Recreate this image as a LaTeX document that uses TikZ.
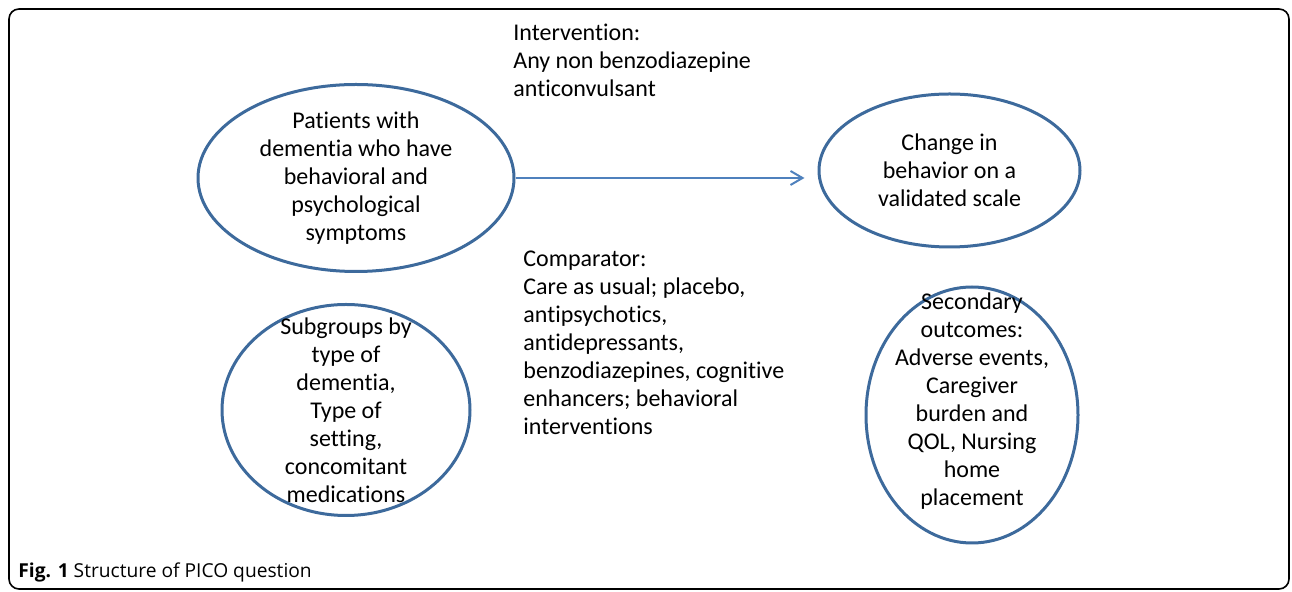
\documentclass[tikz,border=0pt]{standalone}
\usepackage{fontspec}
\setmainfont{Carlito}[Ligatures=NoCommon]
\newfontfamily\capfont{Open Sans}
\usetikzlibrary{shapes.geometric, arrows.meta, positioning}
\definecolor{ovalblue}{HTML}{3D6A9C}
\definecolor{arrowblue}{HTML}{4F81BD}
\tikzstyle{oval} = [ellipse, draw=ovalblue, line width=1.5pt, inner sep=0pt]
\tikzstyle{txt} = [align=center, font=\fontsize{12}{14}\selectfont, inner sep=0pt]
\tikzstyle{side} = [align=left, font=\fontsize{12}{14}\selectfont, inner sep=0pt, anchor=base west]
\tikzstyle{arrow} = [draw=arrowblue, line width=1pt, -{Straight Barb[length=6pt, width=7pt]}]
\begin{document}
\begin{tikzpicture}[x=0.5pt, y=-0.5pt]
		\useasboundingbox (0,0) rectangle (1292,592);
		\draw[rounded corners=5pt, line width=0.8pt] (9,9) rectangle (1289,589);

		\node (Population) [oval, minimum width=158pt, minimum height=93.5pt] at (356,178) {};
		\node (PopulationText) [txt] at (Population) {Patients with\\dementia who have\\behavioral and\\psychological\\symptoms};
		\node (Subgroups) [oval, minimum width=124pt, minimum height=105.5pt] at (346,410) {};
		\node (SubgroupsText) [txt] at (Subgroups) {Subgroups by\\type of\\dementia,\\Type of\\setting,\\concomitant\\medications};
		\node (Outcome) [oval, minimum width=130.5pt, minimum height=76.5pt] at (949.5,170.5) {};
		\node (OutcomeText) [txt] at (Outcome) {Change in\\behavior on a\\validated scale};
		\node (Secondary) [oval, minimum width=106pt, minimum height=128pt] at (972,415) {};
		\node (SecondaryText) [txt] at (972,401) {Secondary\\outcomes:\\Adverse events,\\Caregiver\\burden and\\QOL, Nursing\\home\\placement};

		% base anchor sits on the last line
		\node (Intervention) [side] at (513,97) {Intervention:\\Any non benzodiazepine\\anticonvulsant};
		\node (Comparator) [side] at (523,435) {Comparator:\\Care as usual; placebo,\\antipsychotics,\\antidepressants,\\benzodiazepines, cognitive\\enhancers; behavioral\\interventions};

		\draw [arrow, shorten >=6.5pt] (Population.east) -- (Population.east -| Outcome.west);

		\node (Caption) [anchor=base west, inner sep=0pt, font=\capfont\fontsize{9.6}{11}\selectfont] at (18,578) {\textbf{Fig. 1} Structure of PICO question};
\end{tikzpicture}
\end{document}
